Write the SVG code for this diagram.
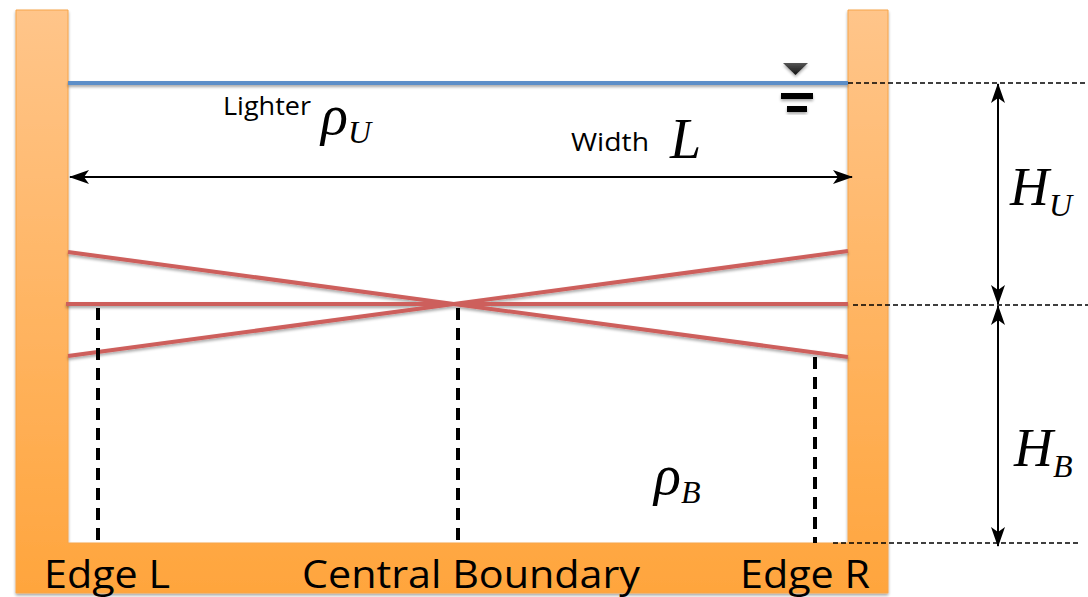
<svg xmlns="http://www.w3.org/2000/svg" width="1088" height="597" viewBox="0 0 1088 597">
<defs>
<linearGradient id="wall" x1="0" y1="0" x2="0" y2="1">
<stop offset="0" stop-color="#FFC58A"/>
<stop offset="1" stop-color="#FFA53D"/>
</linearGradient>
<linearGradient id="tri" x1="0" y1="0" x2="0" y2="1">
<stop offset="0" stop-color="#555"/>
<stop offset="1" stop-color="#111"/>
</linearGradient>
<filter id="sh" x="-5%" y="-5%" width="110%" height="110%">
<feGaussianBlur in="SourceAlpha" stdDeviation="1.5"/>
<feOffset dx="0" dy="2"/>
<feComponentTransfer><feFuncA type="linear" slope="0.35"/></feComponentTransfer>
<feMerge><feMergeNode/><feMergeNode in="SourceGraphic"/></feMerge>
</filter>
<marker id="ah" viewBox="0 0 20 14" refX="19" refY="7" markerWidth="20" markerHeight="14" markerUnits="userSpaceOnUse" orient="auto-start-reverse">
<path d="M0,0 L20,7 L0,14 L5,7 Z" fill="#000"/>
</marker>
<style>
.red{stroke:#CD5F5C;stroke-width:4;fill:none}
.vd{stroke:#000;stroke-width:4;stroke-dasharray:12,8;fill:none}
.hd{stroke:#000;stroke-width:1.5;stroke-dasharray:5,3;fill:none}
.ar{stroke:#000;stroke-width:2;fill:none}
.lab{font-family:"Open Sans","Liberation Sans",sans-serif;fill:#000}
.math{font-family:"Liberation Serif","Times New Roman",serif;font-style:italic;fill:#000}
</style>
</defs>
<rect width="1088" height="597" fill="#fff"/>
<g id="tank" filter="url(#sh)">
<path d="M16,10 H68 V543 H848 V10 H888 V593 H16 Z" fill="url(#wall)" stroke="#F7A54A" stroke-width="1"/>
</g>
<g id="surface" filter="url(#sh)">
<line x1="68" y1="83" x2="848" y2="83" stroke="#5B8EC8" stroke-width="4"/>
<path d="M783,63 H808 L795.5,75 Z" fill="url(#tri)"/>
<rect x="781" y="93" width="32" height="6" fill="#000"/>
<rect x="787" y="106" width="20" height="6" fill="#000"/>
</g>
<g id="interfaces" filter="url(#sh)">
<line class="red" x1="68" y1="252" x2="848" y2="357"/>
<line class="red" x1="68" y1="356" x2="848" y2="251"/>
<line class="red" x1="66" y1="304" x2="848" y2="304"/>
</g>
<g id="connectors">
<line class="vd" x1="98" y1="308" x2="98" y2="543"/>
<line class="vd" x1="458" y1="308" x2="458" y2="543"/>
<line class="vd" x1="815" y1="357" x2="815" y2="543"/>
<line class="ar" x1="70" y1="177" x2="852" y2="177" marker-start="url(#ah)" marker-end="url(#ah)"/>
<line class="hd" x1="848" y1="83" x2="1088" y2="83"/>
<line class="hd" x1="853" y1="305" x2="1088" y2="305"/>
<line class="hd" x1="833" y1="543" x2="1080" y2="543"/>
<line class="ar" x1="998" y1="84" x2="998" y2="304" marker-start="url(#ah)" marker-end="url(#ah)"/>
<line class="ar" x1="998" y1="306" x2="998" y2="546" marker-start="url(#ah)" marker-end="url(#ah)"/>
</g>
<g id="labels">
<text class="lab" x="223" y="115" font-size="25" textLength="88" lengthAdjust="spacingAndGlyphs">Lighter</text>
<text class="math" x="321" y="134" font-size="56">ρ<tspan font-size="32" dy="9">U</tspan></text>
<text class="lab" x="571" y="151" font-size="25" textLength="78" lengthAdjust="spacingAndGlyphs">Width</text>
<text class="math" x="670" y="158" font-size="56">L</text>
<text class="math" x="1010" y="205" font-size="54">H<tspan font-size="32" dy="11">U</tspan></text>
<text class="math" x="1014" y="466" font-size="54">H<tspan font-size="32" dy="11">B</tspan></text>
<text class="math" x="654" y="494" font-size="56">ρ<tspan font-size="32" dy="9">B</tspan></text>
<text class="lab" x="44" y="588" font-size="39" textLength="126" lengthAdjust="spacingAndGlyphs">Edge L</text>
<text class="lab" x="302" y="588" font-size="39" textLength="338" lengthAdjust="spacingAndGlyphs">Central Boundary</text>
<text class="lab" x="740" y="588" font-size="39" textLength="130" lengthAdjust="spacingAndGlyphs">Edge R</text>
</g>
</svg>
